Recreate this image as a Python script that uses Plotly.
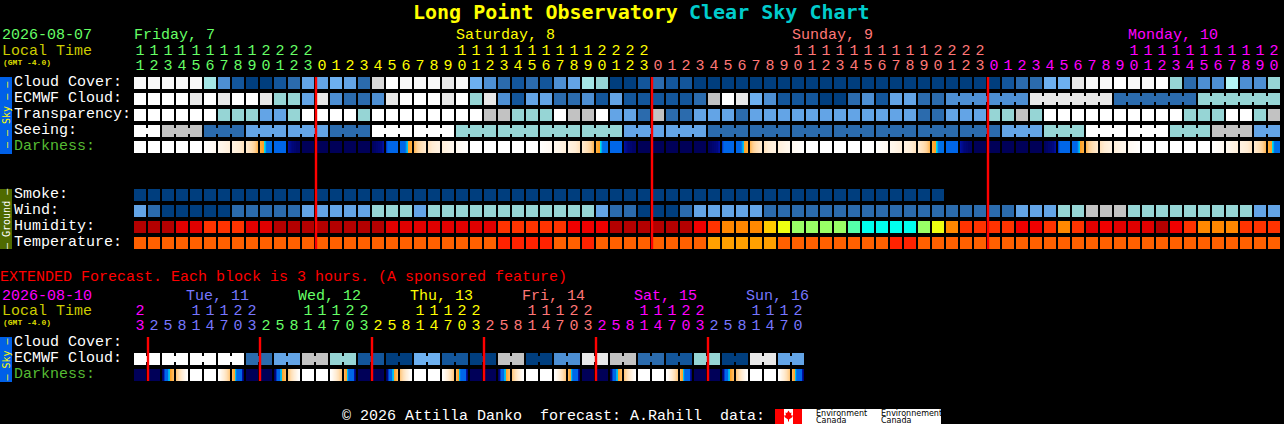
import plotly.graph_objects as go

W, H = 1284, 424

# ---- palette codes: 0-13 sky, 14-23 humidity, 24-26 temperature
palette = ["#003e7e", "#13569b", "#2b6bad", "#4d8fd3", "#63a4e6", "#6db0f0", "#96d5d5",
           "#a4e6e6", "#b4f6f6", "#c2c2c2", "#d8d8d8", "#e8e8e8", "#f8f8f8", "#ffffff",
           "#b40000", "#e00000", "#f00000", "#ff3300", "#ff8800", "#ffcc00", "#eeff11",
           "#99ff66", "#55ffaa", "#00ffee", "#ff6000", "#ff2200", "#ffa000"]

cloud_cover = [12, 12, 12, 12, 12, 7, 3, 1, 0, 0, 1, 2, 4, 4, 5, 4, 2, 10, 13, 12, 12,
               12, 11, 12, 5, 3, 2, 1, 2, 1, 3, 4, 7, 6, 0, 0, 1, 2, 1, 1, 0, 0, 0, 0, 0, 0, 0, 0, 0, 0, 0, 0,
               0, 0, 0, 0, 0, 0, 0, 0, 0, 0, 1, 2, 2, 5, 5, 11, 12, 12, 13, 12, 12, 13, 6, 2, 3, 3, 8, 3, 3, 6]
ecmwf_cloud = [13, 13, 13, 13, 11, 13, 11, 13, 13, 11, 6, 6, 4, 11, 3, 2, 2, 3, 11, 13, 13,
               13, 11, 13, 6, 11, 3, 1, 4, 4, 2, 2, 3, 1, 4, 1, 1, 1, 1, 1, 2, 9, 13, 11, 5, 3, 1, 1, 1, 0, 0, 2,
               3, 1, 4, 4, 2, 2, 3, 3, 3, 3, 3, 3, 11, 11, 11, 11, 11, 11, 2, 2, 2, 2, 2, 2, 6, 6, 6, 6, 6, 6]
ecmwf_merge_from = 58
transparency = [13, 13, 13, 13, 13, 13, 6, 6, 6, 4, 4, 6, 13, 13, 13, 13, 6, 13, 13, 13, 13,
                13, 13, 13, 13, 9, 9, 6, 6, 6, 13, 9, 9, 13, 4, 4, 2, 9, 2, 2, 4, 4, 4, 2, 4, 4, 4, 4, 4, 4, 4, 4,
                4, 4, 4, 4, 2, 2, 4, 4, 4, 6, 6, 9, 6, 13, 13, 13, 13, 13, 13, 13, 13, 13, 13, 6, 6, 6, 13, 13, 6, 9]
seeing_blocks = [([13], 2), ([9], 3), ([2], 3), ([4], 3), ([4], 3), ([2], 3), ([13], 3), ([13], 3),
                 ([6], 3), ([6], 3), ([6], 3), ([6], 3), ([4], 3), ([4], 3), ([2], 3), ([2], 3), ([2], 3),
                 ([2], 3), ([2], 3), ([2], 3), ([2], 3), ([4], 3), ([6], 3), ([13], 3), ([13], 3), ([6], 3),
                 ([9], 3), ([4], 2)]
smoke = [0] * 58 + [None] * 24
wind = [4, 2, 0, 0, 0, 0, 0, 2, 2, 2, 2, 2, 4, 4, 4, 4, 4, 6, 6, 6, 4,
        6, 6, 6, 6, 6, 6, 6, 6, 6, 6, 6, 6, 4, 2, 2, 0, 0, 0, 2, 4, 4, 4, 4, 4, 2, 2, 2, 2, 2, 2, 2,
        2, 2, 2, 2, 2, 2, 2, 2, 2, 2, 2, 4, 4, 4, 6, 6, 9, 9, 9, 6, 6, 6, 6, 6, 6, 6, 6, 6, 4, 4]
humidity = [14, 14, 14, 15, 15, 17, 17, 17, 15, 15, 14, 14, 14, 14, 14, 14, 14, 14, 15, 15, 15,
            15, 15, 15, 15, 15, 17, 17, 17, 17, 17, 16, 16, 16, 14, 14, 14, 14, 14, 14, 16, 17, 18, 18, 18, 19, 20, 21,
            21, 21, 21, 22, 23, 23, 23, 23, 21, 20, 18, 17, 17, 17, 17, 16, 16, 17, 18, 17, 15, 16, 15, 15, 15, 14, 16,
            17, 18, 18, 18, 17, 17, 17]
temperature = [24] * 26 + [25, 25, 25, 25, 24, 24, 25] + [24] * 8 + [26, 26, 26, 26, 26] + [24] * 8 + \
              [25, 25] + [24] * 26

# darkness: level per pixel of a cell, 0 = daylight, 100 = darkest
dark_levels = [0, 10, 20, 30, 40, 50, 60, 68, 72, 74, 80, 84, 86, 90, 92, 95, 100]
dark_colors = ["#ffffff", "#fff5e8", "#ffecd4", "#ffe0b8", "#ffd49c", "#ffc880", "#ffb858", "#ffa830", "#ff9e20",
               "#00e8e0", "#00b0f0", "#0078e8", "#0066e8", "#0038c8", "#0010a0", "#000880", "#000058"]
dark_tiles = {
    "W": [0, 0, 0, 0, 0, 0, 0, 0, 0, 0, 0, 0],
    "N": [100, 100, 100, 100, 100, 100, 100, 100, 100, 100, 100, 100],
    "d1": [1, 1, 2, 2, 3, 3, 4, 4, 5, 5, 6, 6],
    "d2": [8, 8, 9, 9, 10, 11, 12, 13, 14, 15, 16, 17],
    "d3": [14, 14, 15, 16, 17, 18, 19, 20, 22, 24, 26, 28],
    "d4": [22, 24, 26, 28, 30, 32, 35, 38, 42, 48, 54, 60],
    "d5": [66, 68, 70, 71, 75, 80, 84, 85, 85, 85, 85, 85],
    "d6": [86, 86, 86, 86, 86, 86, 86, 86, 86, 86, 86, 86],
    "d7": [92, 93, 94, 95, 96, 96, 97, 97, 98, 98, 98, 98],
    "m1": [99, 99, 98, 98, 97, 97, 96, 96, 95, 95, 93, 92],
    "m2": [90, 87, 86, 86, 86, 86, 86, 86, 86, 86, 86, 86],
    "m3": [86, 86, 86, 86, 86, 84, 81, 78, 71, 69, 67, 65],
    "m4": [60, 54, 48, 42, 38, 35, 32, 30, 28, 26, 24, 22],
    "m5": [28, 26, 24, 22, 20, 19, 18, 17, 16, 15, 14, 14],
    "m6": [17, 16, 15, 14, 13, 12, 11, 10, 9, 9, 8, 8],
    "m7": [6, 6, 5, 5, 4, 4, 3, 3, 2, 2, 1, 1],
    "e_dawn": [98, 95, 90, 86, 86, 86, 80, 78, 70, 66, 62, 58],
    "e_morn": [50, 42, 36, 30, 26, 22, 18, 14, 10, 6, 3, 1],
    "e_eve": [1, 3, 6, 10, 14, 18, 22, 26, 30, 36, 42, 50],
    "e_dusk": [60, 66, 70, 78, 84, 86, 86, 86, 86, 86, 92, 96],
}
dark_cycle = ["d1", "d2", "d3", "d4", "d5", "d6", "d7", "N", "N", "N", "N", "N",
              "m1", "m2", "m3", "m4", "m5", "m6", "m7", "W", "W", "W", "W", "W"]
darkness_cells = ["W"] * 5 + dark_cycle * 3 + ["d1", "d2", "d3", "d4", "d5"]

ext_ecmwf_blocks = [13, 13, 13, 13, 2, 4, 9, 6, 1, 0, 5, 1, 0, 9, 0, 3, 11, 9, 2, 1, 6, 0, 11, 4]
ext_dark_cycle = ["N", "N", "e_dawn", "e_morn", "W", "W", "e_eve", "e_dusk"]
ext_dark_cells = ext_dark_cycle * 6

# ---- hour labels
start_hour = 11
hour_colors = ["#66ff66", "#ffff00", "#ff7777", "#ff00ff"]
ext_start_hour = 23
ext_colors = ["#ff00ff", "#7777ff", "#66ff66", "#ffff00", "#ff7777", "#ff00ff", "#7777ff"]
midnight_cols = [13, 37, 61]
ext_midnight_cols = [1, 9, 17, 25, 33, 41]

main_labels = ["Cloud Cover:", "ECMWF Cloud:", "Transparency:", "Seeing:", "Darkness:"]
ground_labels = ["Smoke:", "Wind:", "Humidity:", "Temperature:"]
day_labels = ["Friday, 7", "Saturday, 8", "Sunday, 9", "Monday, 10"]
ext_day_labels = ["Tue, 11", "Wed, 12", "Thu, 13", "Fri, 14", "Sat, 15", "Sun, 16"]

N = 82
for row in (cloud_cover, ecmwf_cloud, transparency, smoke, wind, humidity, temperature, darkness_cells):
    assert len(row) == N, len(row)

# ---- pixel <-> axis mapping: one column is 14px, one row is 16px
def X(px):
    return (px - 140) / 14

def Y(py):
    return (py - 83) / 16

FONT = "Liberation Mono"
TITLE_FONT = "DejaVu Sans Mono"

seeing = []
seeing_bridge = []
for (val, n) in seeing_blocks:
    for k in range(n):
        seeing.append(val[0])
        seeing_bridge.append(val[0] if k < n - 1 else None)
assert len(seeing) == N, len(seeing)

ecmwf_bridge = []
for i in range(N - 1):
    same = i >= ecmwf_merge_from and ecmwf_cloud[i] == ecmwf_cloud[i + 1]
    ecmwf_bridge.append(ecmwf_cloud[i] if same else None)

blank = [None] * N
main_rows = [cloud_cover, ecmwf_cloud, transparency, seeing, blank, blank, blank,
             smoke, wind, humidity, temperature]
scale = [[i / (len(palette) - 1), c] for i, c in enumerate(palette)]
dark_scale = [[v / 100, c] for v, c in zip(dark_levels, dark_colors)]

fig = go.Figure()
fig.add_trace(go.Heatmap(x=list(range(N)), y=list(range(len(main_rows))), z=main_rows,
                         colorscale=scale, zmin=0, zmax=len(palette) - 1,
                         xgap=2, ygap=4, showscale=False, hoverinfo="skip"))
# thin joins between merged blocks
fig.add_trace(go.Heatmap(x=[i + 0.5 for i in range(N - 1)], y=[1, 2, 3],
                         z=[ecmwf_bridge, [None] * (N - 1), seeing_bridge[:N - 1]],
                         colorscale=scale, zmin=0, zmax=len(palette) - 1,
                         xgap=12, ygap=10, showscale=False, hoverinfo="skip"))

# darkness, pixel resolution
def dark_pixels(cells):
    xs, zs = [], []
    for i, name in enumerate(cells):
        for k, v in enumerate(dark_tiles[name]):
            xs.append(i + (k - 5.5) / 14)
            zs.append(v)
        xs.extend([i + 6.5 / 14, i + 7.5 / 14])
        zs.extend([None, None])
    return xs, zs

xs, zs = dark_pixels(darkness_cells)
fig.add_trace(go.Heatmap(x=xs, y=[4, 5], z=[zs, [None] * len(zs)], colorscale=dark_scale, zmin=0, zmax=100,
                         ygap=4, showscale=False, hoverinfo="skip"))

# extended
ext_n = 48
ext_ecmwf = [v for v in ext_ecmwf_blocks for _ in range(2)]
ext_bridge = [ext_ecmwf[i] if i % 2 == 0 else None for i in range(ext_n - 1)]
ext_row0 = Y(359)
fig.add_trace(go.Heatmap(x=list(range(ext_n)), y=[ext_row0, ext_row0 + 1], z=[ext_ecmwf, [None] * ext_n],
                         colorscale=scale, zmin=0, zmax=len(palette) - 1,
                         xgap=2, ygap=4, showscale=False, hoverinfo="skip"))
fig.add_trace(go.Heatmap(x=[i + 0.5 for i in range(ext_n - 1)], y=[ext_row0, ext_row0 + 1],
                         z=[ext_bridge, [None] * (ext_n - 1)],
                         colorscale=scale, zmin=0, zmax=len(palette) - 1,
                         xgap=12, ygap=10, showscale=False, hoverinfo="skip"))
xs, zs = dark_pixels(ext_dark_cells)
fig.add_trace(go.Heatmap(x=xs, y=[ext_row0 + 1, ext_row0 + 2], z=[zs, [None] * len(zs)],
                         colorscale=dark_scale, zmin=0, zmax=100,
                         ygap=4, showscale=False, hoverinfo="skip"))

# midnight lines
lx, ly = [], []
for c in midnight_cols:
    lx += [c - 6 / 14, c - 6 / 14, None]
    ly += [Y(77), Y(249), None]
for c in ext_midnight_cols:
    lx += [c - 6 / 14, c - 6 / 14, None]
    ly += [Y(337), Y(381), None]
fig.add_trace(go.Scatter(x=lx, y=ly, mode="lines", line=dict(color="#ff0000", width=2.4), hoverinfo="skip",
                         showlegend=False))

# hour digits
def hour_trace(n, first, step, colors, y_tens, y_ones):
    hx, hy, ht, hc = [], [], [], []
    day = 0
    prev = None
    for i in range(n):
        h = (first + step * i) % 24
        if prev is not None and h < prev:
            day += 1
        prev = h
        c = colors[day]
        hx.append(i); hy.append(Y(y_ones)); ht.append(str(h % 10)); hc.append(c)
        if h >= 10:
            hx.append(i); hy.append(Y(y_tens)); ht.append(str(h // 10)); hc.append(c)
    fig.add_trace(go.Scatter(x=hx, y=hy, text=ht, mode="text", textposition="middle center",
                             textfont=dict(family=FONT, size=15, color=hc), hoverinfo="skip", showlegend=False))

hour_trace(N, start_hour, 1, hour_colors, 51.5, 66)
hour_trace(ext_n, ext_start_hour, 3, ext_colors, 311.5, 326)

# ---- text
ann = []

def label(px, py, text, color="#ffffff", size=15, angle=0, xanchor="left", family=FONT, bold=False):
    if bold:
        text = "<b>" + text + "</b>"
    ann.append(dict(x=(px - 1.5) / W, y=1 - py / H, xref="paper", yref="paper", text=text, showarrow=False,
                    xanchor=xanchor, yanchor="middle", textangle=angle, borderpad=0,
                    font=dict(family=family, size=size, color=color)))

label(413, 12, "Long Point Observatory", "#ffff00", 20, bold=True, family=TITLE_FONT)
label(689, 12, "Clear Sky Chart", "#00cccc", 20, bold=True, family=TITLE_FONT)

label(2, 36, "2026-08-07", "#66ff66")
label(2, 51.5, "Local Time", "#cccc00")
label(3, 62.5, "(GMT -4.0)", "#dddd00", 8, bold=True)
for d, px, c in zip(day_labels, [134, 456, 792, 1128], hour_colors):
    label(px, 36, d, c)

for i, t in enumerate(main_labels):
    label(14, 82.5 + 16 * i, t, "#55bb33" if t.startswith("Dark") else "#ffffff")
for i, t in enumerate(ground_labels):
    label(14, 194.5 + 16 * i, t)

label(0, 277.5, "EXTENDED Forecast. Each block is 3 hours. (A sponsored feature)", "#ff0000")
label(2, 296, "2026-08-10", "#ff00ff")
label(2, 311.5, "Local Time", "#cccc00")
label(3, 322.5, "(GMT -4.0)", "#dddd00", 8, bold=True)
for i, d in enumerate(ext_day_labels):
    label(186 + 112 * i, 296, d, ext_colors[i + 1])
for i, t in enumerate(["Cloud Cover:", "ECMWF Cloud:", "Darkness:"]):
    label(14, 342.5 + 16 * i, t, "#55bb33" if t.startswith("Dark") else "#ffffff")

DASH = "\u2014"
label(7.5, 115, f"{DASH} {DASH} Sky {DASH} {DASH}", "#ffff00", 10, -90, "center", family="DejaVu Sans Mono")
label(7.5, 219, f"{DASH} Ground {DASH}", "#ffffff", 10, -90, "center", family="DejaVu Sans Mono")
label(7.5, 359.5, f"{DASH} Sky {DASH}", "#ffff00", 10, -90, "center", family="DejaVu Sans Mono")

label(342, 416, "\u00a9 2026 Attilla Danko\u00a0\u00a0forecast: A.Rahill\u00a0\u00a0data:")
label(816, 413, "Environment", "#000000", 8, family="DejaVu Sans")
label(816, 420, "Canada", "#000000", 8, family="DejaVu Sans")
label(881, 413, "Environnement", "#000000", 8, family="DejaVu Sans")
label(881, 420, "Canada", "#000000", 8, family="DejaVu Sans")

# ---- side bars and logo
def rect(x0, y0, x1, y1, color):
    return dict(type="rect", xref="x", yref="y", x0=X(x0), x1=X(x1), y0=Y(y0), y1=Y(y1),
                fillcolor=color, line=dict(width=0), layer="below")

shapes = [rect(0, 77, 12, 154, "#0060e8"), rect(0, 189, 12, 249, "#4f6a00"), rect(0, 337, 12, 382, "#0060e8"),
          rect(775, 409, 941, 424, "#ffffff"), rect(775, 409, 784, 424, "#ff0000"), rect(793, 409, 802, 424, "#ff0000")]
leaf = [(788.5, 410.5), (790, 413), (791.5, 412.5), (791, 415.5), (792.5, 415), (792.5, 417), (789, 419.5),
        (789, 421.5), (788, 421.5), (788, 419.5), (784.5, 417), (784.5, 415), (786, 415.5), (785.5, 412.5), (787, 413)]
path = "M " + " L ".join(f"{X(a):.4f},{Y(b):.4f}" for a, b in leaf) + " Z"
shapes.append(dict(type="path", path=path, xref="x", yref="y", fillcolor="#ff0000", line=dict(width=0), layer="below"))

fig.update_layout(width=W, height=H, margin=dict(l=0, r=0, t=0, b=0), paper_bgcolor="#000000",
                  plot_bgcolor="#000000", showlegend=False, annotations=ann, shapes=shapes,
                  xaxis=dict(visible=False, range=[X(0), X(W)], fixedrange=True),
                  yaxis=dict(visible=False, range=[Y(H), Y(0)], fixedrange=True))

fig.write_html("out.html", config={"displayModeBar": False},
               post_script="document.body.style.margin='0';document.body.style.overflow='hidden';document.body.style.background='#000';")
